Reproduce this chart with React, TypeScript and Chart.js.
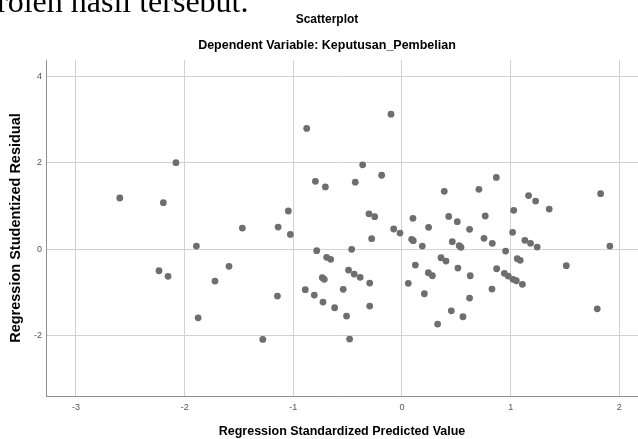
import React, { useEffect, useRef } from "react";
import { Chart, registerables } from "chart.js";

Chart.register(...registerables);

const titleText = "Scatterplot";
const subtitleText = "Dependent Variable: Keputusan_Pembelian";
const xAxisTitle = "Regression Standardized Predicted Value";
const yAxisTitle = "Regression Studentized Residual";
const clippedHeading = "roleh hasil tersebut.";

const xTicks = [-3, -2, -1, 0, 1, 2];
const yTicks = [-2, 0, 2, 4];

// Regression Standardized Predicted Value
const predicted = [
  -2.597, -2.196, -2.08, -0.877, -0.797, -1.046, -1.469, -1.14, -1.027, -1.892,
  -0.785, -0.101, -0.705, -0.43, -0.362, -0.187, 0.389, 0.708, 0.868, 1.165,
  1.23, 1.355, 1.828, 1.028, -0.304, -0.251, 0.101, 0.43, 0.509, 0.766,
  0.245, 0.622, -0.076, -0.018, -0.279, 0.089, 0.104, 0.187, 0.463, 0.527,
  0.543, 0.755, 0.831, 1.018, 1.131, 1.183, 1.244, 1.913, -0.463, 0.954,
  -0.693, -0.656, -0.89, -0.807, -0.727, -0.62, -0.51, -0.482, -0.733, -0.715,
  -0.541, -0.492, -0.44, -0.385, -0.297, -0.297, 0.058, 0.123, 0.206, 0.243,
  0.28, 0.359, 0.405, 0.328, 0.454, 0.515, 0.561, 0.622, 0.628, 0.828,
  0.871, 0.942, 0.978, 1.022, 1.052, 1.061, 1.088, 1.108, 1.512, 1.797,
  -2.236, -2.153, -1.592, -1.721, -1.876, -1.281, -1.146,
];

// Regression Studentized Residual
const residual = [
  1.185, 1.077, 2.0, 2.79, 1.57, 0.885, 0.49, 0.515, 0.345, 0.076,
  -0.03, 3.12, 1.44, 1.55, 1.95, 1.71, 1.34, 1.385, 1.66, 1.24,
  1.115, 0.93, 1.285, 0.9, 0.82, 0.753, 0.716, 0.76, 0.638, 0.77,
  0.508, 0.462, 0.469, 0.376, 0.245, 0.23, 0.2, 0.076, 0.176, 0.083,
  0.046, 0.254, 0.138, 0.392, 0.207, 0.138, 0.053, 0.076, 0.0, -0.04,
  -0.185, -0.23, -0.93, -1.055, -1.217, -1.348, -1.54, -2.07, -0.655, -0.693,
  -0.924, -0.478, -0.57, -0.647, -0.778, -1.309, -0.785, -0.363, -1.025, -0.54,
  -0.61, -0.194, -0.27, -1.725, -1.418, -0.432, -1.556, -1.125, -0.61, -0.917,
  -0.448, -0.554, -0.617, -0.693, -0.725, -0.217, -0.254, -0.808, -0.378, -1.372,
  -0.494, -0.624, -0.393, -0.732, -1.58, -2.08, -1.078,
];

const sans = "'Liberation Sans', Arial, sans-serif";

export default function App() {
  const canvasRef = useRef<HTMLCanvasElement | null>(null);

  useEffect(() => {
    const canvas = canvasRef.current;
    if (!canvas) return;
    const points = predicted.map((x, i) => ({ x, y: residual[i] }));
    const chart = new Chart(canvas, {
      type: "scatter",
      data: {
        datasets: [
          {
            data: points,
            backgroundColor: "#6e6e6e",
            borderWidth: 0,
            pointRadius: 3.4,
            pointHoverRadius: 3.4,
          },
        ],
      },
      options: {
        animation: false,
        responsive: false,
        events: [],
        layout: { padding: { left: 16, right: 0, top: 0, bottom: 0 }, autoPadding: false },
        plugins: {
          legend: { display: false },
          tooltip: { enabled: false },
          title: {
            display: true,
            text: titleText,
            color: "#000",
            font: { family: sans, size: 12, weight: "bold" },
            padding: { top: 12, bottom: 4 },
          },
          subtitle: {
            display: true,
            text: subtitleText,
            color: "#000",
            font: { family: sans, size: 12.5, weight: "bold" },
            padding: { top: 8, bottom: 6.6 },
          },
        },
        scales: {
          x: {
            type: "linear",
            min: -3.276,
            max: 2.172,
            afterBuildTicks: (scale: any) => {
              scale.ticks = xTicks.map((v) => ({ value: v }));
            },
            afterFit: (scale: any) => {
              scale.height = 43;
            },
            ticks: {
              color: "#555",
              font: { family: sans, size: 9 },
              padding: 6,
              maxRotation: 0,
              callback: (v: any) => String(v),
            },
            grid: { color: "#d2d2d2", lineWidth: 1, drawTicks: false },
            border: { display: true, color: "#8f8f8f", width: 1 },
            title: {
              display: true,
              text: xAxisTitle,
              color: "#000",
              font: { family: sans, size: 12.5, weight: "bold" },
              padding: { top: 0, bottom: 0 },
            },
          },
          y: {
            type: "linear",
            min: -3.385,
            max: 4.37,
            afterBuildTicks: (scale: any) => {
              scale.ticks = yTicks.map((v) => ({ value: v }));
            },
            afterFit: (scale: any) => {
              scale.width = 30;
            },
            ticks: {
              color: "#555",
              font: { family: sans, size: 9 },
              padding: 4,
              callback: (v: any) => String(v),
            },
            grid: { color: "#d2d2d2", lineWidth: 1, drawTicks: false },
            border: { display: true, color: "#8f8f8f", width: 1 },
            title: {
              display: true,
              text: yAxisTitle,
              color: "#000",
              font: { family: sans, size: 14.5, weight: "bold" },
              padding: { top: -8.7, bottom: 0 },
            },
          },
        },
      },
    });
    return () => chart.destroy();
  }, []);

  return (
    <div
      style={{
        position: "fixed",
        left: 0,
        top: 0,
        width: 638,
        height: 439,
        overflow: "hidden",
        background: "#fff",
      }}
    >
      <canvas ref={canvasRef} width={638} height={439} style={{ position: "absolute", left: 0, top: 0 }} />
      <div
        style={{
          position: "absolute",
          left: -3,
          top: -15,
          fontFamily: "'Liberation Serif', 'Times New Roman', serif",
          fontSize: 32,
          lineHeight: "32px",
          whiteSpace: "nowrap",
          color: "#000",
        }}
      >
        {clippedHeading}
      </div>
    </div>
  );
}
